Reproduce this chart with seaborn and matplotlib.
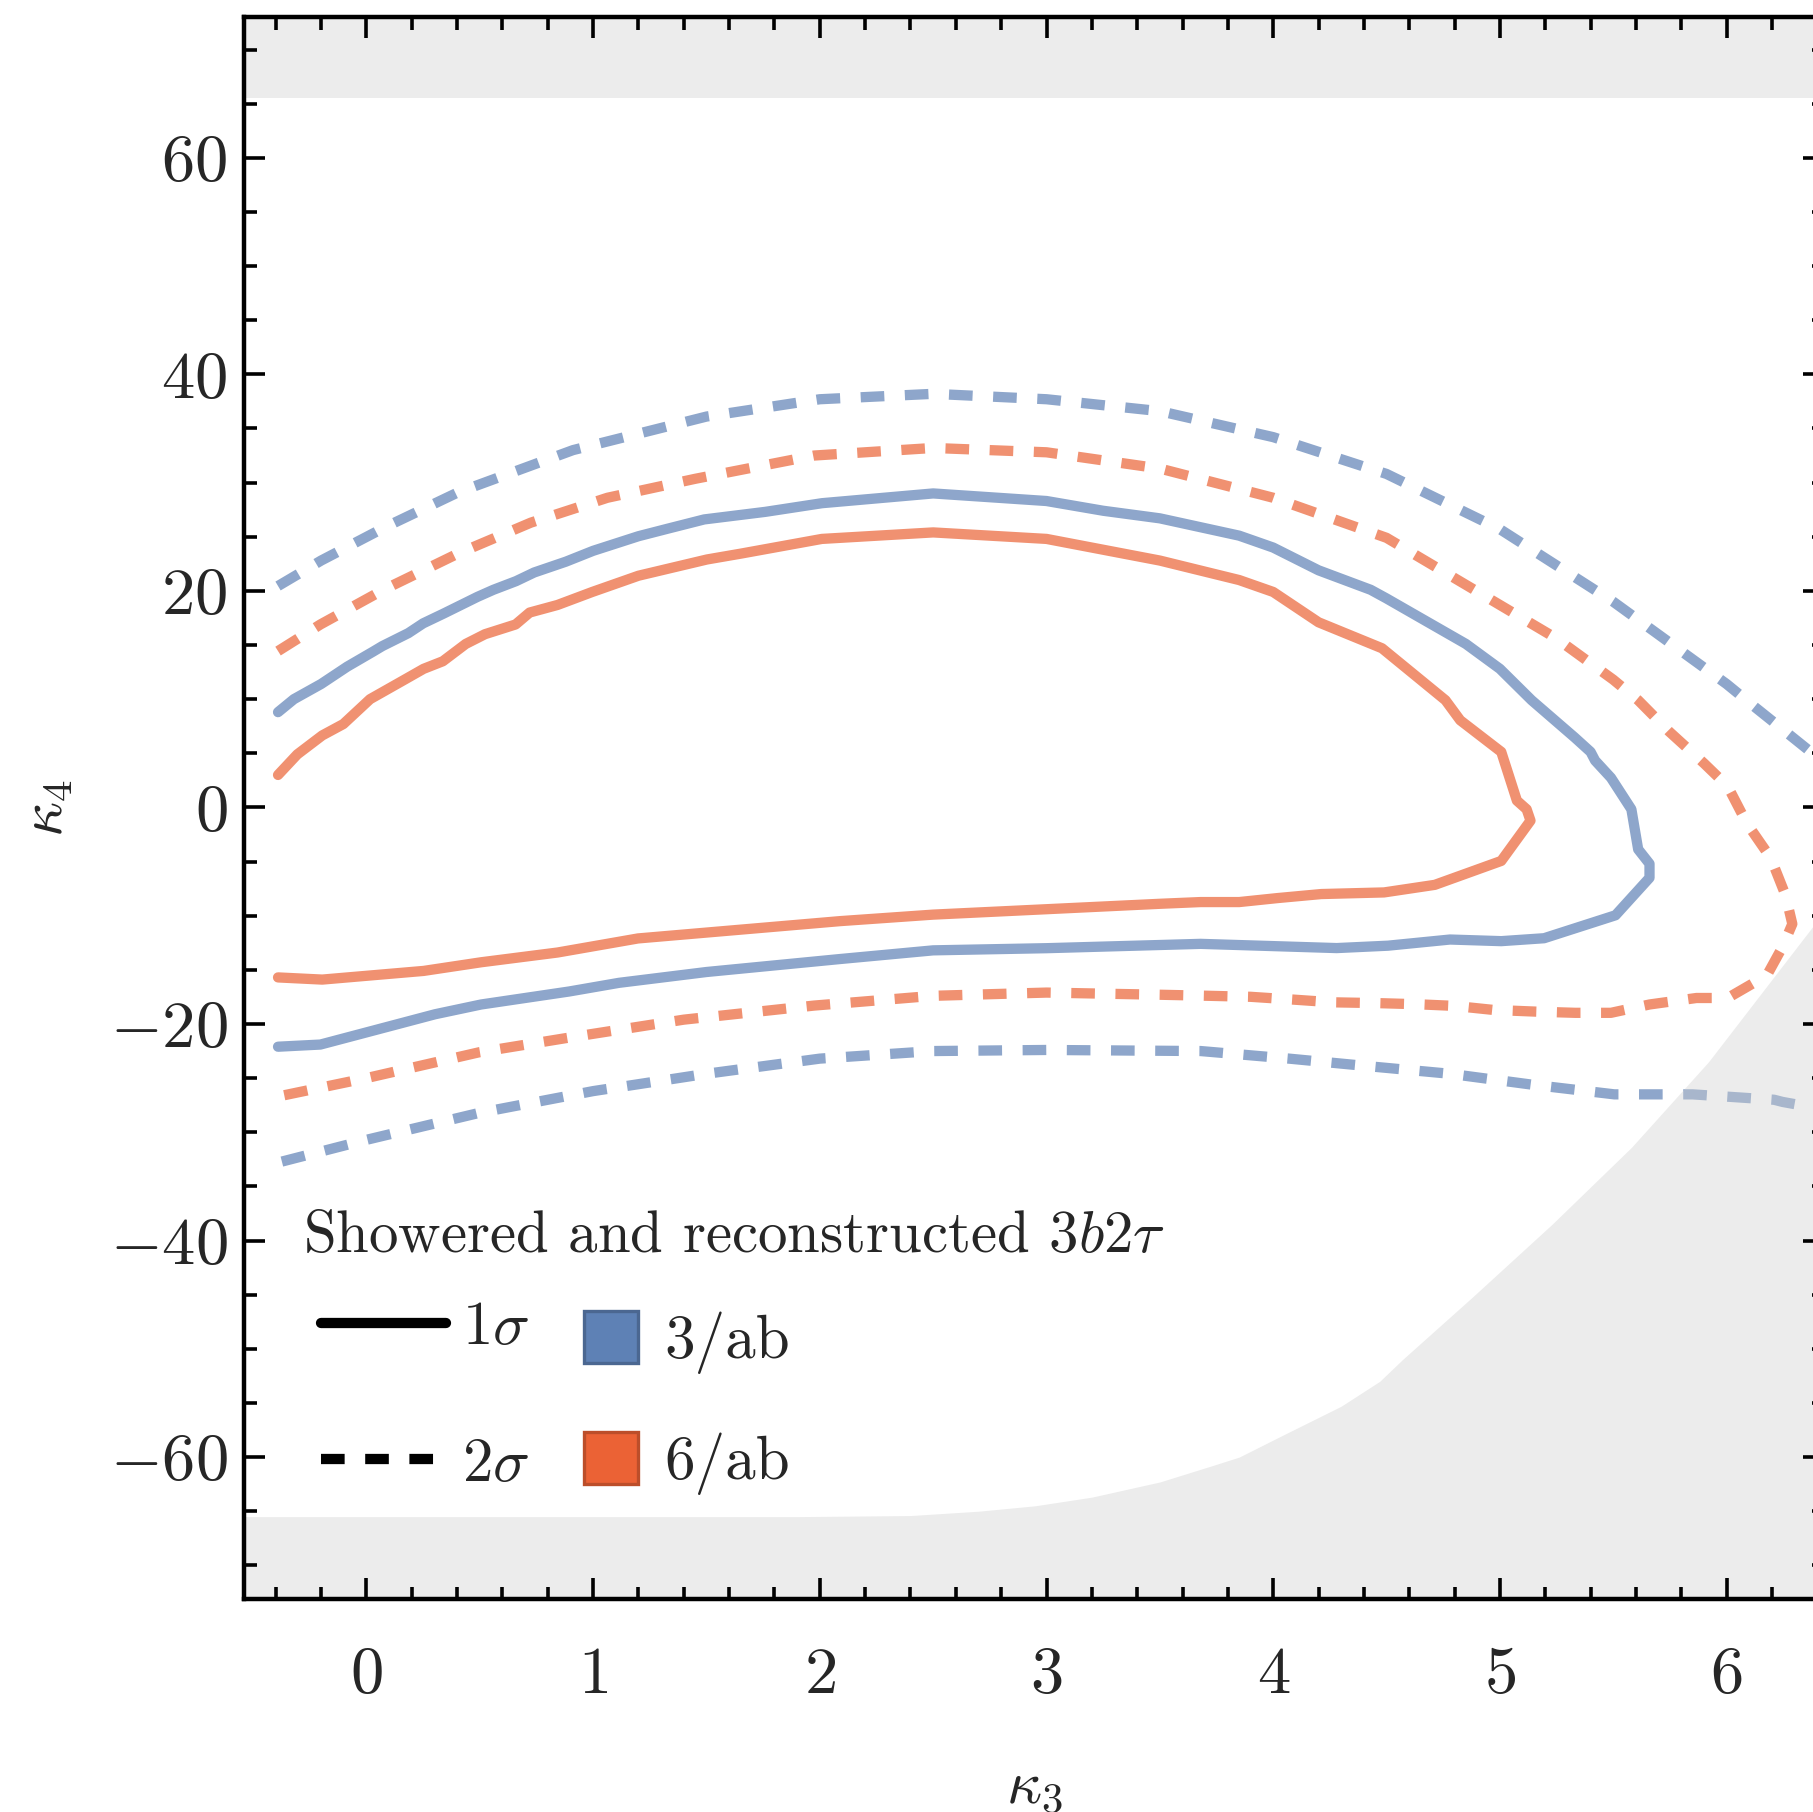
import numpy as np
import pandas as pd
import matplotlib
matplotlib.use("Agg")
import matplotlib.pyplot as plt
from matplotlib.lines import Line2D
from matplotlib.patches import Patch
from matplotlib.ticker import MultipleLocator
import seaborn as sns

# ---------------------------------------------------------------
# contour data  (kappa_3, kappa_4)
# ---------------------------------------------------------------
# 3/ab, 1 sigma
blue_1s_x = [-0.39, -0.32, -0.20, -0.085, 0.03, 0.07, 0.185, 0.25, 0.34, 0.49, 0.56, 0.66, 0.74,
             0.88, 1.0, 1.2, 1.33, 1.49, 1.76, 2.01, 2.5, 3.0, 3.25, 3.5, 3.85, 4.0, 4.2, 4.43,
             4.5, 4.65, 4.85, 5.0, 5.14, 5.33, 5.40, 5.42, 5.49, 5.58, 5.61, 5.66, 5.66, 5.51,
             5.195, 5.006, 4.78, 4.506, 4.28, 3.68, 3.0, 2.5, 2.09, 1.5, 1.114, 0.894, 0.506,
             0.303, -0.203, -0.39]
blue_1s_y = [8.8, 10.0, 11.4, 13.0, 14.4, 14.9, 16.1, 17.0, 17.9, 19.45, 20.1, 20.9, 21.7,
             22.7, 23.7, 25.05, 25.75, 26.6, 27.3, 28.1, 29.0, 28.3, 27.4, 26.7, 25.1, 24.0, 21.9, 20.1,
             19.3, 17.5, 15.1, 12.8, 9.9, 6.46, 5.13, 4.33, 2.74, -0.17, -3.87, -5.2, -6.5, -9.96,
             -12.08, -12.35, -12.2, -12.77, -12.99, -12.6, -13.0, -13.2, -14.0, -15.2, -16.2, -17.0, -18.2,
             -19.1, -21.9, -22.1]

# 6/ab, 1 sigma
orange_1s_x = [-0.39, -0.305, -0.195, -0.102, 0.016, 0.168, 0.252, 0.337, 0.438, 0.523, 0.658, 0.72,
               0.843, 0.996, 1.2, 1.502, 1.654, 2.009, 2.5, 3.0, 3.5, 3.85, 4.0, 4.2, 4.48, 4.76, 4.825,
               5.006, 5.075, 5.118, 5.135, 5.006, 4.713, 4.489, 4.212, 4.02, 3.85, 3.68, 3.5, 3.0,
               2.5, 2.09, 1.198, 0.843, 0.506, 0.252, -0.195, -0.39]
orange_1s_y = [3.0, 4.9, 6.65, 7.7, 10.0, 11.8, 12.8, 13.5, 15.1, 16.0, 16.9, 18.0,
               18.7, 19.9, 21.4, 22.9, 23.45, 24.8, 25.4, 24.8, 22.8, 21.0, 19.9, 17.1, 14.7, 9.9, 8.05,
               5.13, 0.63, -0.17, -1.22, -4.94, -7.15, -7.85, -8.0, -8.37, -8.74, -8.74, -8.9, -9.4,
               -9.9, -10.5, -12.1, -13.4, -14.3, -15.1, -15.9, -15.7]

# 6/ab, 2 sigma
orange_2s_x = [-0.39, -0.203, 0.075, 0.404, 0.725, 1.063, 1.45, 1.975, 2.5, 3.0, 3.5, 4.0, 4.5, 5.0,
               5.25, 5.5, 5.61, 5.747, 5.90, 6.005, 6.09, 6.195, 6.26, 6.29, 6.247, 6.178, 6.005,
               5.867, 5.66, 5.49, 5.333, 5.16, 4.97, 4.80, 4.626, 4.454, 4.264, 4.09, 3.90, 3.68,
               3.5, 3.0, 2.5, 1.975, 1.4, 0.911, 0.5, 0.0, -0.39]
orange_2s_y = [14.44, 16.9, 20.1, 23.45, 26.3, 28.6, 30.35, 32.5, 33.2, 32.8, 31.3, 28.6, 24.9, 18.7,
               15.6, 11.8, 9.9, 7.0, 4.08, 1.95, -1.49, -4.67, -8.1, -10.76, -12.87, -15.5, -17.6,
               -17.6, -18.2, -18.97, -18.97, -18.86, -18.7, -18.33, -18.17, -18.07, -18.0, -17.75, -17.49, -17.38,
               -17.3, -17.1, -17.4, -18.3, -19.6, -21.2, -22.6, -25.0, -26.7]

# 3/ab, 2 sigma (leaves the frame on the right)
blue_2s_up_x = [-0.39, -0.2, 0.084, 0.404, 0.911, 1.5, 2.0, 2.5, 3.0, 3.5, 4.0, 4.5, 5.0, 5.5, 6.0,
                6.117, 6.26, 6.45]
blue_2s_up_y = [20.45, 22.8, 25.9, 29.1, 33.0, 36.1, 37.7, 38.2, 37.7, 36.6, 34.2, 30.8, 25.7, 19.0, 11.4,
                9.4, 7.0, 3.8]
blue_2s_lo_x = [6.3, 6.247, 6.21, 5.85, 5.505, 5.14, 4.78, 4.42, 4.07, 3.68, 3.0, 2.5, 2.0, 1.5, 1.0,
                0.5, 0.0, -0.39]
blue_2s_lo_y = [-27.4, -27.2, -27.0, -26.5, -26.5, -25.6, -24.6, -23.9, -23.2, -22.5, -22.4, -22.5, -23.2,
                -24.6, -26.2, -28.2, -30.7, -32.8]

# excluded (grey) region: lower boundary and |kappa_4| band
excl_x = [-0.6, 1.2, 1.9, 2.4, 2.7, 2.95, 3.2, 3.5, 3.73, 3.85, 4.05, 4.3, 4.47, 4.57, 4.88,
          5.23, 5.58, 5.92, 6.38, 6.5]
excl_y = [-65.5, -65.5, -65.5, -65.4, -65.0, -64.5, -63.7, -62.3, -60.8, -60.0, -57.9, -55.3, -53.0,
          -51.0, -45.2, -38.5, -31.4, -23.5, -11.0, -7.7]
band_top = 65.5

# ---------------------------------------------------------------
# style
# ---------------------------------------------------------------
sns.set_theme(style="ticks")
plt.rcParams["font.family"] = "serif"
plt.rcParams["font.serif"] = ["cmr10", "DejaVu Serif"]
plt.rcParams["mathtext.fontset"] = "cm"
plt.rcParams["axes.formatter.use_mathtext"] = True
plt.rcParams["axes.unicode_minus"] = True

BLUE = "#5E81B5"
ORANGE = "#EB6235"
LW = 3.7
DASH = (0, (2.3, 2.0))

fig = plt.figure(figsize=(1813 / 200, 1812 / 200), dpi=200)
ax = fig.add_axes([0.1346, 0.1176, 1.0061 - 0.1346, 0.9906 - 0.1176])

curves = [
    (blue_1s_x, blue_1s_y, BLUE, "-"),
    (orange_1s_x, orange_1s_y, ORANGE, "-"),
    (orange_2s_x, orange_2s_y, ORANGE, DASH),
    (blue_2s_up_x, blue_2s_up_y, BLUE, DASH),
    (blue_2s_lo_x, blue_2s_lo_y, BLUE, DASH),
]
for cx, cy, col, ls in curves:
    df = pd.DataFrame({"k3": cx, "k4": cy})
    sns.lineplot(data=df, x="k3", y="k4", sort=False, estimator=None, ax=ax,
                 color=col, alpha=0.7, lw=LW, linestyle=ls, zorder=1.8)

# grey excluded regions drawn on top with transparency
ax.fill_between(excl_x, -80, excl_y, color="#d0d0d0", alpha=0.4, lw=0, zorder=2.2)
ax.fill_between([excl_x[0], excl_x[-1]], band_top, 80, color="#d0d0d0", alpha=0.4, lw=0, zorder=2.2)

ax.set_xlim(-0.54, 6.43)
ax.set_ylim(-73.1, 73.0)
ax.set_axisbelow(False)

ax.xaxis.set_major_locator(MultipleLocator(1))
ax.xaxis.set_minor_locator(MultipleLocator(0.2))
ax.yaxis.set_major_locator(MultipleLocator(20))
ax.yaxis.set_minor_locator(MultipleLocator(5))
ax.tick_params(which="both", direction="in", top=True, right=True, width=1.3, color="black")
ax.tick_params(which="major", length=7.6)
ax.tick_params(which="minor", length=4.5)
ax.tick_params(axis="x", which="major", pad=17, labelsize=24)
ax.tick_params(axis="y", which="major", pad=6, labelsize=24)
for sp in ax.spines.values():
    sp.set_linewidth(1.6)
    sp.set_color("black")
    sp.set_zorder(3)

ax.set_xlabel(r"$\kappa_3$", fontsize=22, labelpad=19.5)
ax.set_ylabel(r"$\kappa_4$", fontsize=22, labelpad=12.5)

# legend
ax.text(0.0373, 0.219, r"Showered and reconstructed $3b2\tau$", transform=ax.transAxes,
        ha="left", va="baseline", fontsize=21.2, zorder=5)

style_handles = [Line2D([], [], color="black", lw=LW, linestyle="-"),
                 Line2D([], [], color="black", lw=LW, linestyle=DASH)]
leg1 = ax.legend(style_handles, [r"$1\sigma$", r"$2\sigma$"], loc="center left",
                 bbox_to_anchor=(0.0487, 0.1278), frameon=False, fontsize=22,
                 handlelength=2.05, handletextpad=0.26, labelspacing=1.33,
                 borderpad=0, borderaxespad=0)
ax.add_artist(leg1)

lumi_handles = [Patch(facecolor=BLUE, edgecolor="#4B6791", lw=1.2),
                Patch(facecolor=ORANGE, edgecolor="#BC4E2A", lw=1.2)]
ax.legend(lumi_handles, ["3/ab", "6/ab"], loc="center left",
          bbox_to_anchor=(0.2152, 0.1237), frameon=False, fontsize=22,
          handlelength=0.88, handleheight=0.93, handletextpad=0.44, labelspacing=0.95,
          borderpad=0, borderaxespad=0)

fig.savefig("out.png", dpi=200)
